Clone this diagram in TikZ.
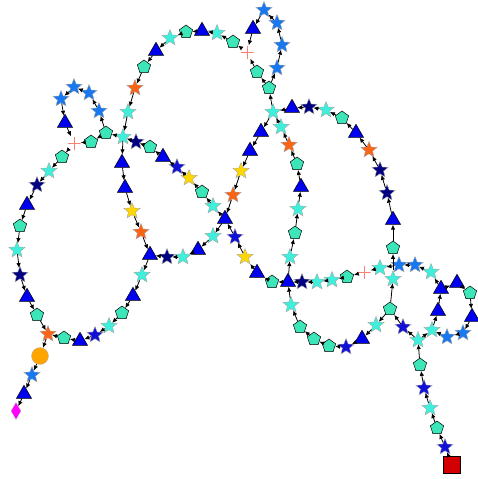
\documentclass[tikz,border=0pt]{standalone}
\usepackage{tikz}
\usetikzlibrary{arrows.meta,shapes.geometric}
\definecolor{tqcol}{RGB}{64,238,220}
\definecolor{pentcol}{RGB}{60,230,185}
\definecolor{navycol}{RGB}{0,0,128}
\definecolor{bluecol}{RGB}{16,16,215}
\definecolor{skycol}{RGB}{24,120,240}
\definecolor{goldcol}{RGB}{255,215,0}
\definecolor{orangecol}{RGB}{250,100,20}
\definecolor{tricol}{RGB}{0,0,240}
\definecolor{plusred}{RGB}{250,128,114}
\tikzset{
    mstar/.style={star,star points=5,star point ratio=2.3,minimum size=17pt,inner sep=0pt,draw=gray!70,line width=0.4pt},
    cyanst/.style={mstar,fill=tqcol},
    navyst/.style={mstar,fill=navycol},
    bluest/.style={mstar,fill=bluecol},
    skyst/.style={mstar,fill=skycol},
    goldst/.style={mstar,fill=goldcol},
    orangest/.style={mstar,fill=orangecol},
    pent/.style={regular polygon,regular polygon sides=5,minimum size=14pt,inner sep=0pt,draw=black,line width=0.5pt,fill=pentcol},
    tri/.style={regular polygon,regular polygon sides=3,minimum size=17.5pt,inner sep=0pt,draw=black,line width=0.5pt,fill=tricol},
    plusmark/.style={minimum size=13pt,inner sep=0pt,path picture={\draw[plusred,line width=0.6pt] (path picture bounding box.north)--(path picture bounding box.south) (path picture bounding box.west)--(path picture bounding box.east);}},
    startbox/.style={rectangle,minimum size=17pt,inner sep=0pt,draw=black,line width=0.6pt,fill={rgb,255:red,210;green,0;blue,0}},
    enddiam/.style={diamond,minimum width=10pt,minimum height=17pt,inner sep=0pt,fill={rgb,255:red,255;green,0;blue,255},draw=gray!60,line width=0.3pt},
    orangedot/.style={circle,minimum size=17pt,inner sep=0pt,fill={rgb,255:red,255;green,165;blue,0},draw=gray!60,line width=0.3pt},
    arrow/.style={-{Latex[length=5pt,width=4.5pt]},line width=0.8pt}
}
\begin{document}
\begin{tikzpicture}[x=1pt,y=-1pt]
    \useasboundingbox (0,0) rectangle (477,479);
    % start strand
    \node[startbox] (sq) at (452,465) {};
    \node[bluest] (s1) at (445,447) {};
    \node[pent] (s2) at (437,428) {};
    \node[cyanst] (s3) at (430,408) {};
    \node[bluest] (s4) at (424,388) {};
    \node[pent] (s5) at (420,365) {};
    \node[cyanst] (s6) at (418,340) {};
    % right lower loop
    \node[bluest] (k1) at (403,327) {};
    \node[pent] (k2) at (390,309) {};
    \node[cyanst] (k3) at (432,330) {};
    \node[tri] (k4) at (438,311) {};
    \node[tri] (k5) at (441,289) {};
    \node[tri] (k6) at (457,283) {};
    \node[pent] (k7) at (470,293) {};
    \node[tri] (k8) at (472,317) {};
    \node[skyst] (k9) at (463,333) {};
    \node[skyst] (k10) at (447,337) {};
    \node[cyanst] (k11) at (431,272) {};
    \node[skyst] (k12) at (415,265) {};
    \node[skyst] (k13) at (399,265) {};
    \node[cyanst] (k14) at (380,268) {};
    \node[cyanst] (k15) at (393,279) {};
    \node[pent] (k16) at (393,248) {};
    % bottom loop
    \node[cyanst] (b1) at (376,325) {};
    \node[tri] (b2) at (362,339) {};
    \node[bluest] (b3) at (346,347) {};
    \node[pent] (b4) at (329,346) {};
    \node[pent] (b5) at (314,339) {};
    \node[pent] (b6) at (300,327) {};
    \node[cyanst] (b7) at (291,305) {};
    % vertical strand
    \node[tri] (v0) at (288,282) {};
    \node[cyanst] (v1) at (290,257) {};
    \node[pent] (v2) at (295,233) {};
    \node[cyanst] (v3) at (298,209) {};
    \node[tri] (v4) at (301,187) {};
    \node[pent] (v5) at (297,164) {};
    \node[orangest] (v6) at (289,145) {};
    \node[cyanst] (v7) at (281,127) {};
    \node[cyanst] (c1) at (273,112) {};
    % right arc
    \node[tri] (a1) at (393,220) {};
    \node[navyst] (a2) at (387,193) {};
    \node[navyst] (a3) at (380,170) {};
    \node[orangest] (a4) at (369,150) {};
    \node[tri] (a5) at (356,133) {};
    \node[pent] (a6) at (342,118) {};
    \node[cyanst] (a7) at (326,110) {};
    \node[navyst] (a8) at (309,107) {};
    \node[tri] (a9) at (292,108) {};
    % top loop
    \node[pent] (t1) at (269,88) {};
    \node[skyst] (t2) at (277,68) {};
    \node[skyst] (t3) at (282,45) {};
    \node[skyst] (t4) at (277,23) {};
    \node[skyst] (t5) at (264,10) {};
    \node[tri] (t6) at (253,29) {};
    \node[plusmark] (t7) at (247,52) {};
    \node[pent] (t8) at (257,72) {};
    % top arc
    \node[pent] (h1) at (233,42) {};
    \node[cyanst] (h2) at (217,33) {};
    \node[tri] (h3) at (202,31) {};
    \node[pent] (h4) at (186,32) {};
    \node[cyanst] (h5) at (170,38) {};
    \node[tri] (h6) at (156,51) {};
    \node[pent] (h7) at (144,67) {};
    \node[orangest] (h8) at (135,88) {};
    \node[cyanst] (h9) at (128,112) {};
    \node[cyanst] (c2) at (123,137) {};
    \node[tri] (m1) at (122,163) {};
    \node[tri] (m2) at (125,188) {};
    \node[goldst] (m3) at (132,211) {};
    \node[orangest] (m4) at (141,232) {};
    \node[tri] (c3) at (150,255) {};
    % diagonal down-left
    \node[tri] (d1) at (261,132) {};
    \node[tri] (d2) at (250,151) {};
    \node[goldst] (d3) at (241,171) {};
    \node[orangest] (d4) at (233,195) {};
    \node[tri] (c4) at (225,219) {};
    \node[cyanst] (d5) at (213,236) {};
    \node[tri] (d6) at (198,250) {};
    \node[cyanst] (d7) at (183,257) {};
    \node[navyst] (d8) at (167,257) {};
    % horizontal strand and long diagonal
    \node[plusmark] (g1) at (364,272) {};
    \node[pent] (g2) at (347,277) {};
    \node[cyanst] (g3) at (332,280) {};
    \node[cyanst] (g4) at (317,282) {};
    \node[navyst] (g5) at (302,282) {};
    \node[pent] (g6) at (272,282) {};
    \node[tri] (g7) at (257,273) {};
    \node[goldst] (g8) at (245,257) {};
    \node[bluest] (g9) at (235,237) {};
    \node[cyanst] (g10) at (213,206) {};
    \node[pent] (g11) at (202,192) {};
    \node[goldst] (g12) at (189,178) {};
    \node[bluest] (g13) at (177,167) {};
    \node[tri] (g14) at (163,157) {};
    \node[pent] (g15) at (150,147) {};
    \node[navyst] (g16) at (136,142) {};
    % left loop
    \node[pent] (l1) at (106,133) {};
    \node[skyst] (l2) at (99,111) {};
    \node[skyst] (l3) at (89,93) {};
    \node[skyst] (l4) at (74,87) {};
    \node[skyst] (l5) at (61,99) {};
    \node[tri] (l6) at (65,123) {};
    \node[plusmark] (l7) at (74,143) {};
    \node[pent] (l8) at (91,142) {};
    % left side
    \node[pent] (e1) at (62,157) {};
    \node[cyanst] (e2) at (49,171) {};
    \node[navyst] (e3) at (37,185) {};
    \node[tri] (e4) at (27,205) {};
    \node[pent] (e5) at (20,226) {};
    \node[cyanst] (e6) at (17,250) {};
    \node[navyst] (e7) at (20,275) {};
    \node[tri] (e8) at (27,297) {};
    \node[pent] (e9) at (37,315) {};
    \node[orangest] (c5) at (48,334) {};
    % lower loop
    \node[cyanst] (u1) at (142,275) {};
    \node[tri] (u2) at (133,296) {};
    \node[pent] (u3) at (122,313) {};
    \node[cyanst] (u4) at (109,326) {};
    \node[bluest] (u5) at (95,335) {};
    \node[tri] (u6) at (80,341) {};
    \node[pent] (u7) at (64,338) {};
    % end strand
    \node[orangedot] (dot) at (40,356) {};
    \node[skyst] (f1) at (32,375) {};
    \node[tri] (f2) at (24,394) {};
    \node[enddiam] (fin) at (16,411) {};

    \draw[arrow] (sq)--(s1);
    \draw[arrow] (s1)--(s2);
    \draw[arrow] (s2)--(s3);
    \draw[arrow] (s3)--(s4);
    \draw[arrow] (s4)--(s5);
    \draw[arrow] (s5)--(s6);
    \draw[arrow] (s6)--(k1);
    \draw[arrow] (k1)--(k2);
    \draw[arrow] (s6)--(k3);
    \draw[arrow] (k3)--(k4);
    \draw[arrow] (k4)--(k5);
    \draw[arrow] (k5)--(k6);
    \draw[arrow] (k6)--(k7);
    \draw[arrow] (k7)--(k8);
    \draw[arrow] (k8)--(k9);
    \draw[arrow] (k9)--(k10);
    \draw[arrow] (k10)--(k3);
    \draw[arrow] (k5)--(k11);
    \draw[arrow] (k11)--(k12);
    \draw[arrow] (k12)--(k13);
    \draw[arrow] (k13)--(k14);
    \draw[arrow] (k2)--(k15);
    \draw[arrow] (k15)--(k16);
    \draw[arrow] (k2)--(b1);
    \draw[arrow] (b1)--(b2);
    \draw[arrow] (b2)--(b3);
    \draw[arrow] (b3)--(b4);
    \draw[arrow] (b4)--(b5);
    \draw[arrow] (b5)--(b6);
    \draw[arrow] (b6)--(b7);
    \draw[arrow] (b7)--(v0);
    \draw[arrow] (v0)--(v1);
    \draw[arrow] (v1)--(v2);
    \draw[arrow] (v2)--(v3);
    \draw[arrow] (v3)--(v4);
    \draw[arrow] (v4)--(v5);
    \draw[arrow] (v5)--(v6);
    \draw[arrow] (v6)--(v7);
    \draw[arrow] (v7)--(c1);
    \draw[arrow] (k16)--(a1);
    \draw[arrow] (a1)--(a2);
    \draw[arrow] (a2)--(a3);
    \draw[arrow] (a3)--(a4);
    \draw[arrow] (a4)--(a5);
    \draw[arrow] (a5)--(a6);
    \draw[arrow] (a6)--(a7);
    \draw[arrow] (a7)--(a8);
    \draw[arrow] (a8)--(a9);
    \draw[arrow] (a9)--(c1);
    \draw[arrow] (c1)--(t1);
    \draw[arrow] (t1)--(t2);
    \draw[arrow] (t2)--(t3);
    \draw[arrow] (t3)--(t4);
    \draw[arrow] (t4)--(t5);
    \draw[arrow] (t5)--(t6);
    \draw[arrow] (t6)--(t7);
    \draw[arrow] (t1)--(t8);
    \draw[arrow] (t8)--(t7);
    \draw[arrow] (t7)--(h1);
    \draw[arrow] (h1)--(h2);
    \draw[arrow] (h2)--(h3);
    \draw[arrow] (h3)--(h4);
    \draw[arrow] (h4)--(h5);
    \draw[arrow] (h5)--(h6);
    \draw[arrow] (h6)--(h7);
    \draw[arrow] (h7)--(h8);
    \draw[arrow] (h8)--(h9);
    \draw[arrow] (h9)--(c2);
    \draw[arrow] (c2)--(m1);
    \draw[arrow] (m1)--(m2);
    \draw[arrow] (m2)--(m3);
    \draw[arrow] (m3)--(m4);
    \draw[arrow] (m4)--(c3);
    \draw[arrow] (c1)--(d1);
    \draw[arrow] (d1)--(d2);
    \draw[arrow] (d2)--(d3);
    \draw[arrow] (d3)--(d4);
    \draw[arrow] (d4)--(c4);
    \draw[arrow] (c4)--(d5);
    \draw[arrow] (d5)--(d6);
    \draw[arrow] (d6)--(d7);
    \draw[arrow] (d7)--(d8);
    \draw[arrow] (d8)--(c3);
    \draw[arrow] (k14)--(g1);
    \draw[arrow] (g1)--(g2);
    \draw[arrow] (g2)--(g3);
    \draw[arrow] (g3)--(g4);
    \draw[arrow] (g4)--(g5);
    \draw[arrow] (g5)--(v0);
    \draw[arrow] (v0)--(g6);
    \draw[arrow] (g6)--(g7);
    \draw[arrow] (g7)--(g8);
    \draw[arrow] (g8)--(g9);
    \draw[arrow] (g9)--(c4);
    \draw[arrow] (c4)--(g10);
    \draw[arrow] (g10)--(g11);
    \draw[arrow] (g11)--(g12);
    \draw[arrow] (g12)--(g13);
    \draw[arrow] (g13)--(g14);
    \draw[arrow] (g14)--(g15);
    \draw[arrow] (g15)--(g16);
    \draw[arrow] (g16)--(c2);
    \draw[arrow] (c2)--(l1);
    \draw[arrow] (l1)--(l2);
    \draw[arrow] (l2)--(l3);
    \draw[arrow] (l3)--(l4);
    \draw[arrow] (l4)--(l5);
    \draw[arrow] (l5)--(l6);
    \draw[arrow] (l6)--(l7);
    \draw[arrow] (l1)--(l8);
    \draw[arrow] (l8)--(l7);
    \draw[arrow] (l7)--(e1);
    \draw[arrow] (e1)--(e2);
    \draw[arrow] (e2)--(e3);
    \draw[arrow] (e3)--(e4);
    \draw[arrow] (e4)--(e5);
    \draw[arrow] (e5)--(e6);
    \draw[arrow] (e6)--(e7);
    \draw[arrow] (e7)--(e8);
    \draw[arrow] (e8)--(e9);
    \draw[arrow] (e9)--(c5);
    \draw[arrow] (c3)--(u1);
    \draw[arrow] (u1)--(u2);
    \draw[arrow] (u2)--(u3);
    \draw[arrow] (u3)--(u4);
    \draw[arrow] (u4)--(u5);
    \draw[arrow] (u5)--(u6);
    \draw[arrow] (u6)--(u7);
    \draw[arrow] (u7)--(c5);
    \draw[arrow] (c5)--(dot);
    \draw[arrow] (dot)--(f1);
    \draw[arrow] (f1)--(f2);
    \draw[arrow] (f2)--(fin);
\end{tikzpicture}
\end{document}
